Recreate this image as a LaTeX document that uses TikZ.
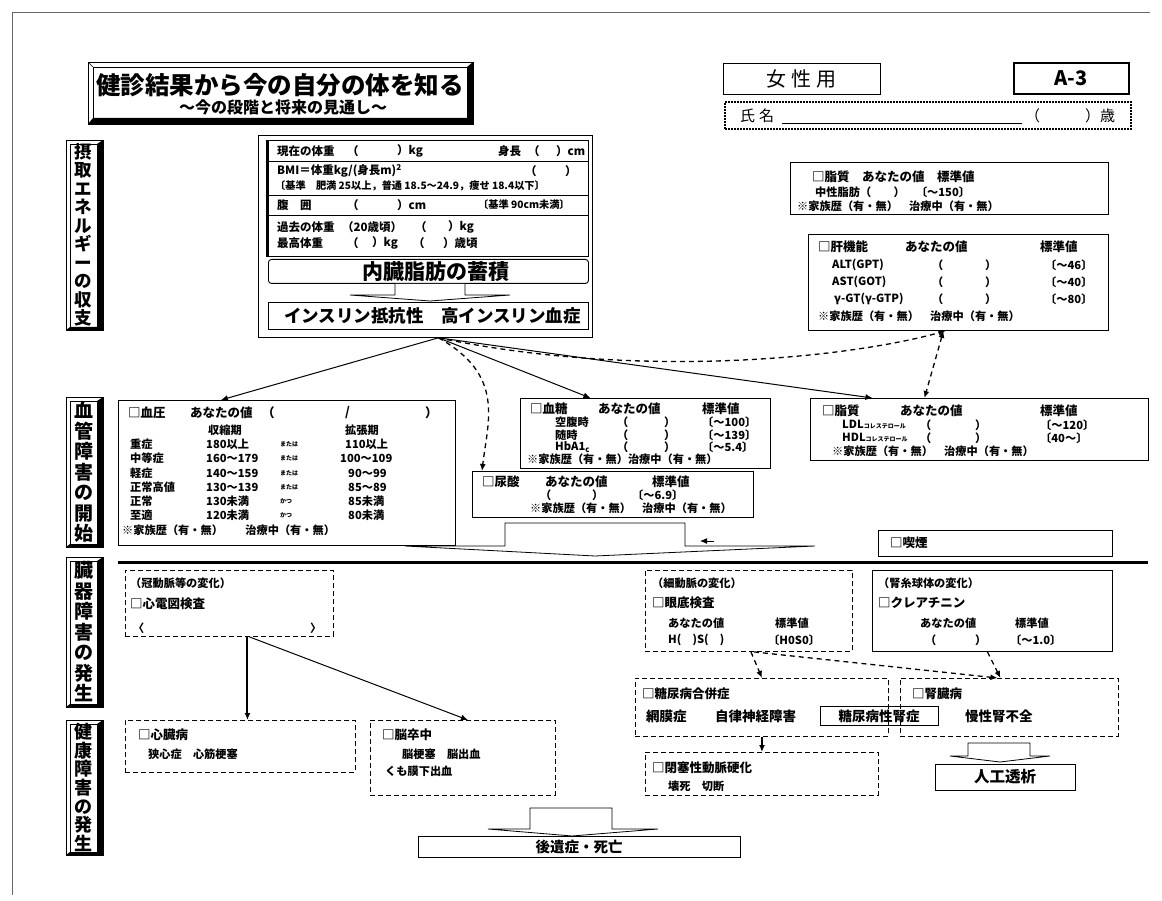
\documentclass[tikz,border=0pt]{standalone}
\usepackage{fontspec}
\setmainfont{Noto Sans CJK JP}
\usetikzlibrary{arrows.meta}
\newcommand\myfs[1]{\fontsize{#1}{#1}\selectfont}
\newcommand\sidelabel[6]{%
  \draw[line width=0.6pt] (66,#2) rectangle (103,#3);
  \fill (103,#2) -- (103,#3) -- (66,#3) -- (70,#3-3) -- (97,#3-3) -- (97,#2+4) -- cycle;
  \draw[line width=0.6pt] (70,#2+4) rectangle (97,#3-3);
  \node[inner sep=0pt, align=center, font=\bfseries\fontsize{#4}{#5}\selectfont] (#1) at (83.5,{(#2+#3)/2}) {#6};
}
\begin{document}
\begin{tikzpicture}[x=1pt,y=-1pt,
  box/.style={draw, line width=0.9pt, inner sep=0pt, anchor=north west},
  dbox/.style={box, dash pattern=on 5pt off 3pt},
  tx/.style={anchor=west, inner sep=0pt, font=\bfseries\myfs{11.2}},
  hd/.style={tx, font=\bfseries\myfs{12.5}},
  big/.style={tx, font=\bfseries\myfs{13.5}},
  sm/.style={tx, font=\bfseries\myfs{6}},
  arr/.style={-{Latex[length=7pt,width=6pt]}, line width=1pt},
  darr/.style={arr, line width=1.3pt, dash pattern=on 5pt off 4pt},
  blk/.style={draw, line width=0.8pt, fill=white},
]
\useasboundingbox (0,0) rectangle (1162,901);
\fill[white] (0,0) rectangle (1162,901);
\draw[line width=0.5pt, black!60] (12,895) -- (12,12) -- (1150,12);

% ---------- title ----------
\draw[line width=0.7pt] (88,62) rectangle (473,124);
\fill (473,62) -- (473,124) -- (88,124) -- (93,118) -- (467,118) -- (467,67) -- cycle;
\draw[line width=0.7pt] (93,67) rectangle (467,118);
\draw[line width=0.5pt] (88,62) -- (93,67);
\node[inner sep=0pt, font=\bfseries\myfs{24.5}] (title) at (280,85) {健診結果から今の自分の体を知る};
\node[inner sep=0pt, font=\bfseries\myfs{16}] (subtitle) at (283,107) {～今の段階と将来の見通し～};

\node[box, minimum width=157, minimum height=31, font=\myfs{20}] (female) at (723,63) {女\hspace{5pt}性\hspace{5pt}用};
\node[box, line width=1.6pt, minimum width=115, minimum height=31, font=\bfseries\myfs{20}] (code) at (1013,62) {A-3};
\node[box, line width=2pt, densely dotted, minimum width=406, minimum height=27] (namebox) at (724,101) {};
\node[tx, font=\myfs{15}] (namelbl) at (740,116) {氏\hspace{4pt}名};
\coordinate (ulA) at (782,123);
\coordinate (ulB) at (1022,123);
\draw[line width=0.6pt] (ulA) -- (ulB);
\node[tx, font=\myfs{15}] (agelbl) at (1025,116) {（　　　）歳};

% ---------- side labels ----------
\sidelabel{lab1}{140}{330}{17.5}{18.5}{摂\\取\\エ\\ネ\\ル\\ギ\\ー\\の\\収\\支}
\sidelabel{lab2}{397}{547}{19}{20.5}{血\\管\\障\\害\\の\\開\\始}
\sidelabel{lab3}{557}{707}{19}{20.5}{臓\\器\\障\\害\\の\\発\\生}
\sidelabel{lab4}{720}{855}{18}{18.7}{健\\康\\障\\害\\の\\発\\生}

% ---------- central block ----------
\node[box, line width=0.8pt, minimum width=334, minimum height=202] (outer) at (258,135) {};
\node[box, minimum width=322, minimum height=116] (body) at (266,140) {};
\draw[line width=3pt] (267.5,140) -- (267.5,256);
\draw[line width=0.8pt] (266,161) -- (588,161) (266,195) -- (588,195) (266,215) -- (588,215);
\node[tx, font=\bfseries\myfs{11.5}] (c1a) at (277,151) {現在の体重};
\node[tx, font=\bfseries\myfs{11.5}] (c1b) at (347,151) {（};
\node[tx, font=\bfseries\myfs{11.5}] (c1c) at (397,151) {）kg};
\node[tx, font=\bfseries\myfs{11.5}] (c1d) at (498,151) {身長};
\node[tx, font=\bfseries\myfs{11.5}] (c1e) at (528,151) {（};
\node[tx, font=\bfseries\myfs{11.5}] (c1f) at (556,151) {）cm};
\node[tx, font=\bfseries\myfs{11.5}] (c2a) at (277,171) {BMI＝体重kg/(身長m)\textsuperscript{2}};
\node[tx, font=\bfseries\myfs{11.5}] (c2b) at (525,171) {（};
\node[tx, font=\bfseries\myfs{11.5}] (c2c) at (565,171) {）};
\node[tx, font=\bfseries\myfs{10.2}] (c2d) at (275,186) {〔基準　肥満 25以上，普通 18.5～24.9，痩せ 18.4以下〕};
\node[tx, font=\bfseries\myfs{11.5}] (c3a) at (277,205) {腹　囲};
\node[tx, font=\bfseries\myfs{11.5}] (c3b) at (347,205) {（};
\node[tx, font=\bfseries\myfs{11.5}] (c3c) at (397,205) {）cm};
\node[tx, font=\bfseries\myfs{10.2}] (c3d) at (478,205) {〔基準 90cm未満〕};
\node[tx, font=\bfseries\myfs{11.5}] (c4a) at (277,227) {過去の体重};
\node[tx, font=\bfseries\myfs{11.5}] (c4b) at (342,227) {（20歳頃）};
\node[tx, font=\bfseries\myfs{11.5}] (c4c) at (415,227) {（};
\node[tx, font=\bfseries\myfs{11.5}] (c4d) at (448,227) {）kg};
\node[tx, font=\bfseries\myfs{11.5}] (c5a) at (277,243) {最高体重};
\node[tx, font=\bfseries\myfs{11.5}] (c5b) at (347,243) {（};
\node[tx, font=\bfseries\myfs{11.5}] (c5c) at (372,243) {）kg};
\node[tx, font=\bfseries\myfs{11.5}] (c5d) at (413,243) {（};
\node[tx, font=\bfseries\myfs{11.5}] (c5e) at (443,243) {）歳頃};

\node[box, rounded corners=3pt, minimum width=320, minimum height=24] (fat) at (268,259) {};
\node[inner sep=0pt, font=\bfseries\myfs{21}] (fatt) at ([xshift=8]fat.center) {内臓脂肪の蓄積};
\draw[blk] (395,284) -- (395,295) -- (350,295) -- (430,301) -- (510,295) -- (465,295) -- (465,284);
\node[box, minimum width=320, minimum height=27] (ins) at (268,302) {};
\node[inner sep=0pt, font=\bfseries\myfs{17.5}] (inst) at ([xshift=4]ins.center) {インスリン抵抗性　高インスリン血症};
\coordinate (hub) at ([xshift=13]outer.south);

% ---------- top right ----------
\node[box, minimum width=318, minimum height=52] (tg) at (790,162) {};
\node[hd] (tg1) at (812,177) {□脂質　あなたの値　標準値};
\node[tx] (tg2) at (815,192) {中性脂肪（　　）　〔～150〕};
\node[tx] (tg3) at (797,206) {※家族歴（有・無）　治療中（有・無）};

\node[box, minimum width=300, minimum height=96] (liver) at (808,234) {};
\node[hd] (lv1) at (818,247) {□肝機能};
\node[hd] (lv2) at (905,247) {あなたの値};
\node[hd] (lv3) at (1040,247) {標準値};
\node[tx] (lv4) at (832,265) {ALT(GPT)};
\node[tx] (lv5) at (932,265) {（};
\node[tx] (lv6) at (985,265) {）};
\node[tx] (lv7) at (1045,265) {〔～46〕};
\node[tx] (lv8) at (832,282) {AST(GOT)};
\node[tx] (lv9) at (932,282) {（};
\node[tx] (lv10) at (985,282) {）};
\node[tx] (lv11) at (1045,282) {〔～40〕};
\node[tx] (lv12) at (834,299) {γ-GT(γ-GTP)};
\node[tx] (lv13) at (932,299) {（};
\node[tx] (lv14) at (985,299) {）};
\node[tx] (lv15) at (1045,299) {〔～80〕};
\node[tx] (lv16) at (818,316) {※家族歴（有・無）　治療中（有・無）};

% ---------- row 2 ----------
\node[box, minimum width=337, minimum height=145] (bp) at (118,400) {};
\node[hd] (bp1) at (128,413) {□血圧};
\node[hd] (bp2) at (190,413) {あなたの値};
\node[hd] (bp3) at (262,413) {（};
\node[hd] (bp4) at (345,413) {/};
\node[hd] (bp5) at (425,413) {）};
\node[tx] (bph1) at (208,430) {収縮期};
\node[tx] (bph2) at (345,430) {拡張期};
\node[tx] (r1a) at (130,444) {重症};
\node[tx] (r1b) at (206,444) {180以上};
\node[sm] (r1c) at (280,444) {または};
\node[tx] (r1d) at (345,444) {110以上};
\node[tx] (r2a) at (130,458) {中等症};
\node[tx] (r2b) at (206,458) {160～179};
\node[sm] (r2c) at (280,458) {または};
\node[tx] (r2d) at (340,458) {100～109};
\node[tx] (r3a) at (130,473) {軽症};
\node[tx] (r3b) at (206,473) {140～159};
\node[sm] (r3c) at (280,473) {または};
\node[tx] (r3d) at (348,473) {90～99};
\node[tx] (r4a) at (130,487) {正常高値};
\node[tx] (r4b) at (206,487) {130～139};
\node[sm] (r4c) at (280,487) {または};
\node[tx] (r4d) at (348,487) {85～89};
\node[tx] (r5a) at (130,501) {正常};
\node[tx] (r5b) at (206,501) {130未満};
\node[sm] (r5c) at (280,501) {かつ};
\node[tx] (r5d) at (348,501) {85未満};
\node[tx] (r6a) at (130,515) {至適};
\node[tx] (r6b) at (206,515) {120未満};
\node[sm] (r6c) at (280,515) {かつ};
\node[tx] (r6d) at (348,515) {80未満};
\node[tx] (bp6) at (122,530) {※家族歴（有・無）　　治療中（有・無）};

\node[box, minimum width=250, minimum height=70] (sugar) at (520,398) {};
\node[hd] (sg1) at (530,409) {□血糖};
\node[hd] (sg2) at (598,409) {あなたの値};
\node[hd] (sg3) at (702,409) {標準値};
\node[tx] (sg4) at (555,422) {空腹時};
\node[tx] (sg5) at (617,422) {（};
\node[tx] (sg6) at (664,422) {）};
\node[tx] (sg7) at (702,422) {〔～100〕};
\node[tx] (sg8) at (555,435) {随時};
\node[tx] (sg9) at (617,435) {（};
\node[tx] (sg10) at (664,435) {）};
\node[tx] (sg11) at (702,435) {〔～139〕};
\node[tx] (sg12) at (555,447) {HbA1\textsubscript{c}};
\node[tx] (sg13) at (617,447) {（};
\node[tx] (sg14) at (664,447) {）};
\node[tx] (sg15) at (702,447) {〔～5.4〕};
\node[tx] (sg16) at (527,459) {※家族歴（有・無）治療中（有・無）};

\node[box, minimum width=281, minimum height=46] (uric) at (472,471) {};
\node[hd] (ur1) at (482,482) {□尿酸};
\node[hd] (ur2) at (545,482) {あなたの値};
\node[hd] (ur3) at (652,482) {標準値};
\node[tx] (ur4) at (540,495) {（};
\node[tx] (ur5) at (592,495) {）};
\node[tx] (ur6) at (632,495) {〔～6.9〕};
\node[tx] (ur7) at (530,508) {※家族歴（有・無）　治療中（有・無）};

\node[box, minimum width=338, minimum height=62] (ldl) at (810,398) {};
\node[hd] (ld1) at (822,411) {□脂質};
\node[hd] (ld2) at (900,411) {あなたの値};
\node[hd] (ld3) at (1040,411) {標準値};
\node[tx] (ld4) at (842,425) {LDL{\myfs{6}コレステロール}};
\node[tx] (ld5) at (920,425) {（};
\node[tx] (ld6) at (975,425) {）};
\node[tx] (ld7) at (1040,425) {〔～120〕};
\node[tx] (ld8) at (842,438) {HDL{\myfs{6}コレステロール}};
\node[tx] (ld9) at (920,438) {（};
\node[tx] (ld10) at (975,438) {）};
\node[tx] (ld11) at (1040,438) {〔40～〕};
\node[tx] (ld12) at (832,451) {※家族歴（有・無）　治療中（有・無）};

% connectors from hub
\draw[arr] (hub) -- ([xshift=-66]bp.north);
\draw[arr] (hub) -- ([xshift=-55]sugar.north);
\draw[arr] (hub) -- ([xshift=-107]ldl.north);
\draw[darr] (hub) .. controls (505,375) and (488,420) .. ([xshift=10]uric.north west);
\draw[darr] (hub) .. controls (650,382) and (860,355) .. ([xshift=-13]liver.south);
\draw[darr, {Latex[length=7pt,width=6pt]}-{Latex[length=7pt,width=6pt]}] ([xshift=-15]liver.south) -- ([xshift=-55]ldl.north);

% ---------- big arrow & divider ----------
\draw[blk] (505,523) -- (685,523) -- (685,546) -- (815,546) -- (595,556) -- (405,546) -- (505,546) -- cycle;
\node[box, minimum width=234, minimum height=26] (smoke) at (878,530) {};
\node[hd] (sm1) at (890,543) {□喫煙};
\coordinate (smtail) at (714,541);
\coordinate (smtip) at (700,541);
\draw[arr] (smtail) -- (smtip);
\coordinate (divL) at (118,562);
\coordinate (divR) at (1148,562);
\draw[line width=3pt] (divL) -- (divR);

% ---------- row 3 ----------
\node[dbox, minimum width=208, minimum height=66] (cor) at (125,570) {};
\node[tx] (co1) at (130,583) {（冠動脈等の変化）};
\node[hd] (co2) at (130,604) {□心電図検査};
\node[tx] (co3) at (133,628) {〈};
\node[tx] (co4) at (310,628) {〉};

\node[dbox, minimum width=207, minimum height=81] (art) at (645,570) {};
\node[tx] (ar1) at (652,583) {（細動脈の変化）};
\node[hd] (ar2) at (652,603) {□眼底検査};
\node[tx] (ar3) at (668,623) {あなたの値};
\node[tx] (ar4) at (775,623) {標準値};
\node[tx] (ar5) at (668,640) {H(　)S(　)};
\node[tx] (ar6) at (768,640) {〔H0S0〕};

\node[box, minimum width=240, minimum height=81] (glom) at (872,570) {};
\node[tx] (gl1) at (878,583) {（腎糸球体の変化）};
\node[hd] (gl2) at (878,603) {□クレアチニン};
\node[tx] (gl3) at (920,623) {あなたの値};
\node[tx] (gl4) at (1015,623) {標準値};
\node[tx] (gl5) at (925,640) {（};
\node[tx] (gl6) at (975,640) {）};
\node[tx] (gl7) at (1010,640) {〔～1.0〕};

% ---------- row 4 ----------
\node[dbox, minimum width=230, minimum height=52] (heart) at (125,720) {};
\node[hd] (he1) at (138,735) {□心臓病};
\node[tx] (he2) at (148,754) {狭心症　心筋梗塞};
\node[dbox, minimum width=185, minimum height=75] (stroke) at (370,720) {};
\node[hd] (st1) at (382,735) {□脳卒中};
\node[tx] (st2) at (402,754) {脳梗塞　脳出血};
\node[tx] (st3) at (385,771) {くも膜下出血};

\node[dbox, minimum width=253, minimum height=58] (dia) at (635,678) {};
\node[hd] (di1) at (642,694) {□糖尿病合併症};
\node[big] (di2) at (646,716) {網膜症};
\node[big] (di3) at (715,716) {自律神経障害};
\node[dbox, minimum width=218, minimum height=58] (kd) at (900,678) {};
\node[hd] (kd1) at (912,694) {□腎臓病};
\node[big] (kd2) at (965,716) {慢性腎不全};
\node[draw, line width=0.9pt, inner sep=0pt, minimum width=118, minimum height=19, font=\bfseries\myfs{13.5}] (dn) at (879,716) {糖尿病性腎症};

\node[dbox, minimum width=233, minimum height=43] (occl) at (645,752) {};
\node[hd] (oc1) at (652,768) {□閉塞性動脈硬化};
\node[tx] (oc2) at (668,786) {壊死　切断};

\draw[blk] (968,743) -- (1030,743) -- (1030,756) -- (1050,756) -- (1000,762) -- (950,756) -- (968,756) -- cycle;
\node[draw, line width=0.9pt, inner sep=0pt, minimum width=140, minimum height=26, font=\bfseries\myfs{15.5}] (dialysis) at (1005,777) {人工透析};

\draw[blk] (530,808) -- (612,808) -- (612,829) -- (658,829) -- (572,836) -- (488,829) -- (530,829) -- cycle;
\node[draw, line width=0.9pt, inner sep=0pt, minimum width=322, minimum height=21, font=\bfseries\myfs{14.5}] (death) at (579,847) {後遺症・死亡};

% connectors lower
\draw[arr, line width=2pt] ([xshift=18]cor.south) -- ([xshift=7]heart.north);
\draw[arr] ([xshift=20]cor.south) -- ([xshift=5]stroke.north);
\draw[darr] ([xshift=2]art.south) -- (dia.north);
\draw[darr] ([xshift=5]art.south) -- ([xshift=-12]kd.north);
\draw[darr] ([xshift=-5]glom.south) -- ([xshift=-9]kd.north);
\draw[arr, line width=1.5pt] (dia.south) -- (occl.north);
\end{tikzpicture}
\end{document}
